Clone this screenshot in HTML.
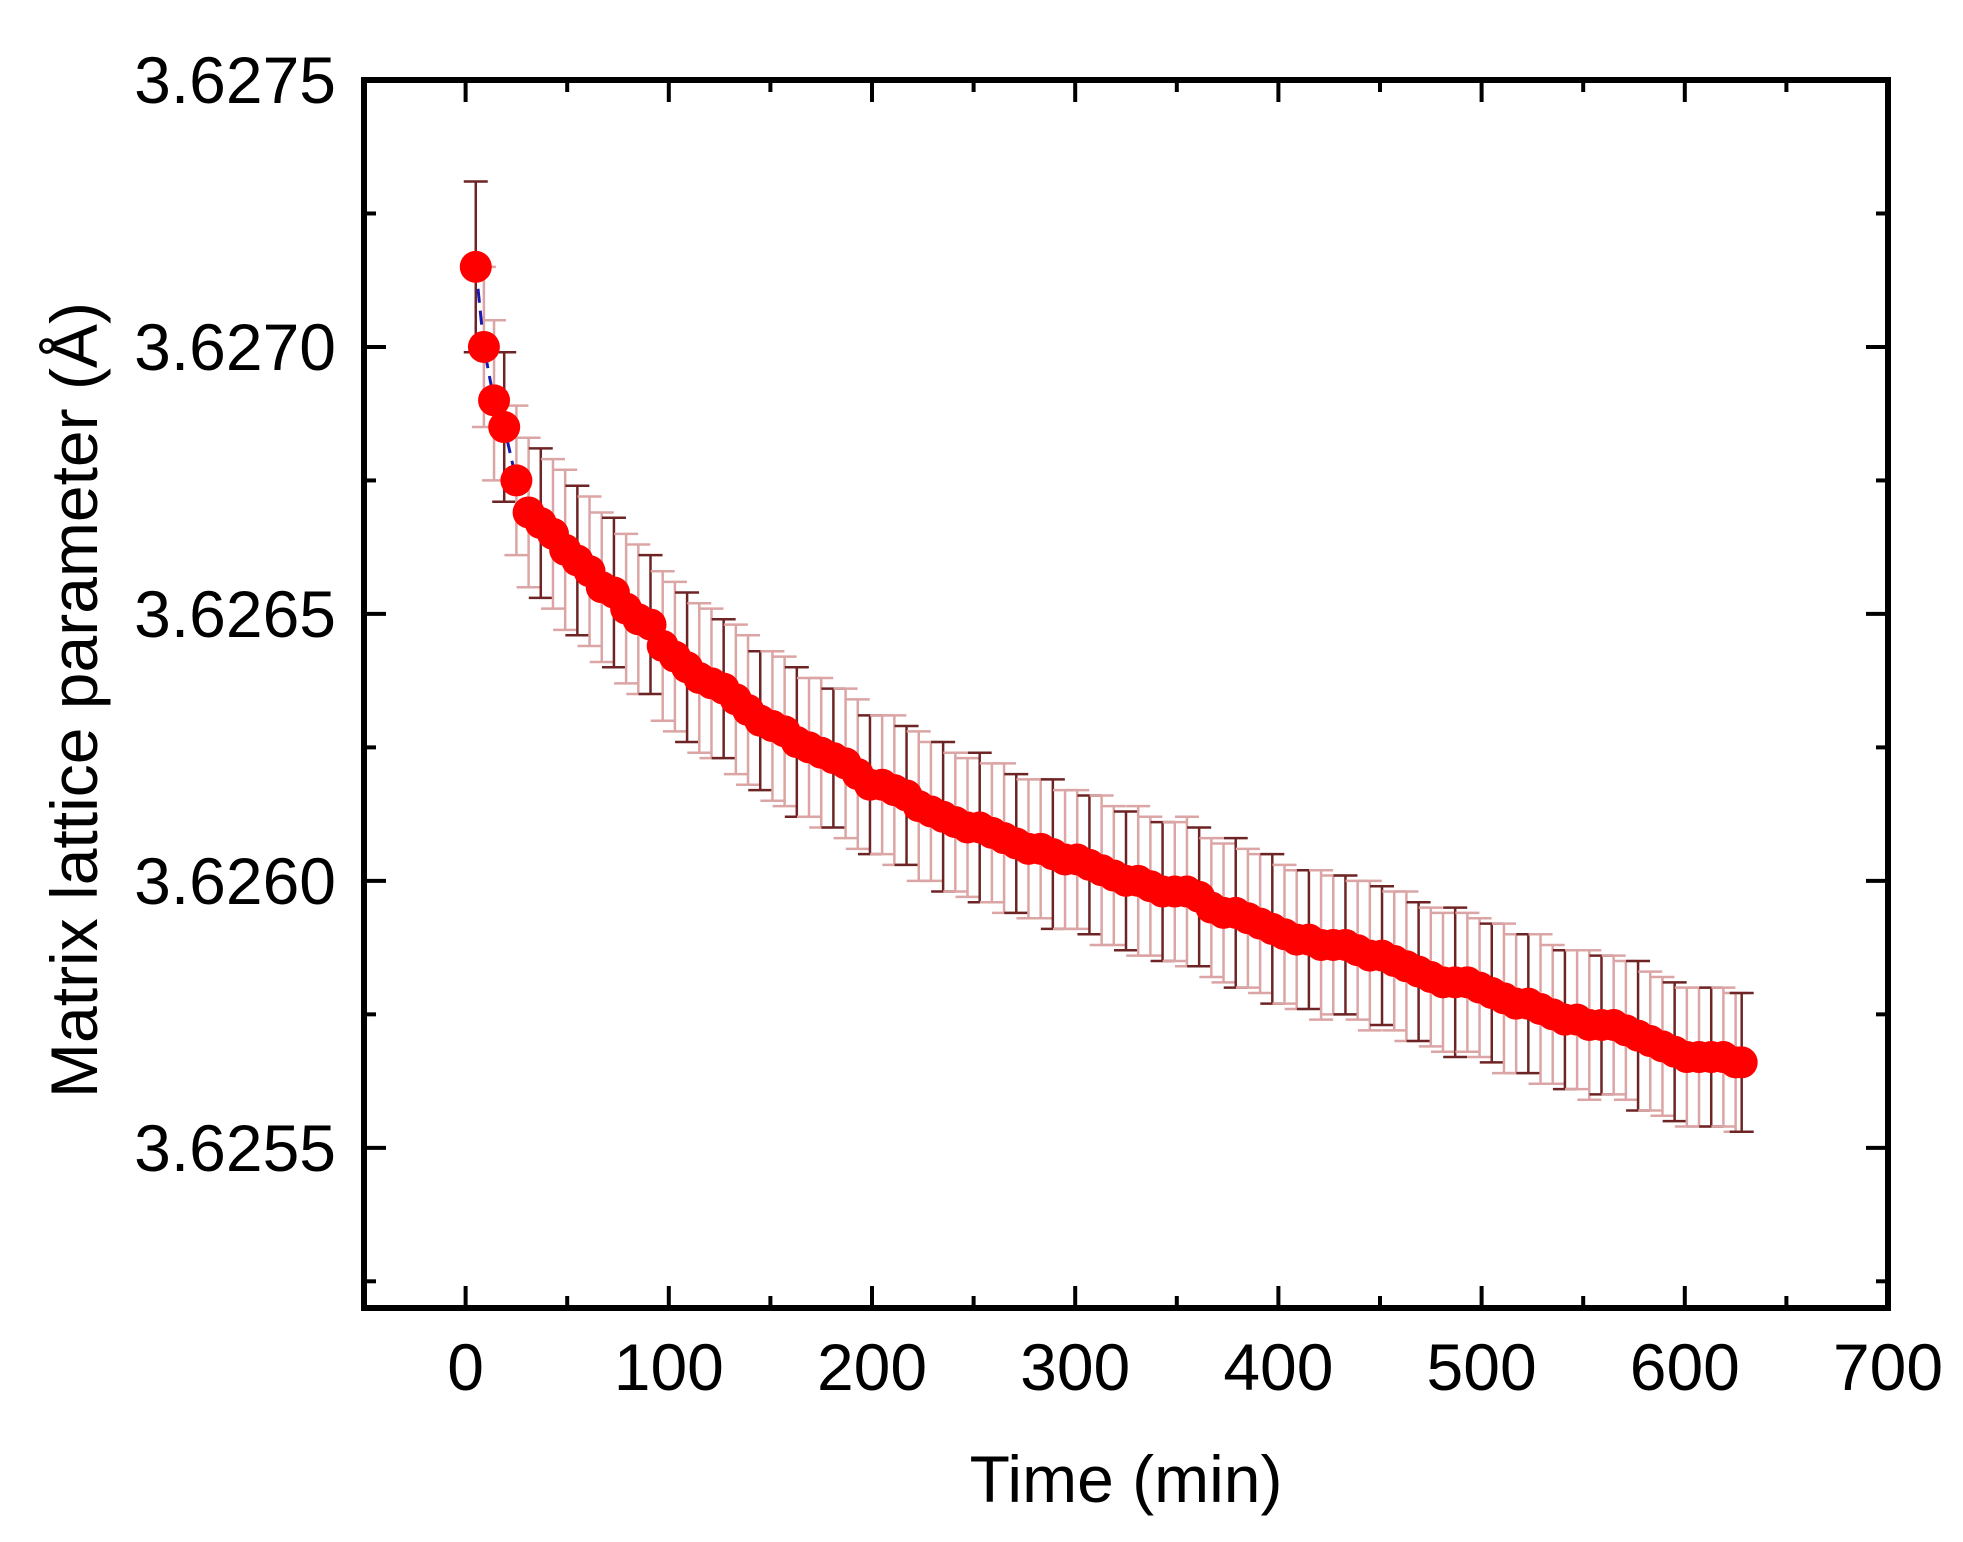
<!DOCTYPE html>
<html><head><meta charset="utf-8"><style>
html,body{margin:0;padding:0;background:#fff;}
svg{display:block;}
text{font-family:"Liberation Sans",Arial,sans-serif;fill:#000;}
</style></head><body>
<svg id="chart" width="1963" height="1542" viewBox="0 0 1963 1542" xmlns="http://www.w3.org/2000/svg">
<g id="errs"></g>
<g id="lines"></g>
<g id="marks"></g>
<g id="axes"></g>
<text x="1126" y="1502" font-size="66" text-anchor="middle">Time (min)</text>
<text transform="translate(97,700) rotate(-90)" font-size="66" text-anchor="middle">Matrix lattice parameter (Å)</text>
</svg>
<script>
const times = [5,9,14,19,25,31,37,43,49,55,61,67,73,79,85,91,97,103,109,115,121,127,133,139,145,151,157,163,169,175,181,187,193,199,205,211,217,223,229,235,241,247,253,259,265,271,277,283,289,295,301,307,313,319,325,331,337,343,349,355,361,367,373,379,385,391,397,403,409,415,421,427,433,439,445,451,457,463,469,475,481,487,493,499,505,511,517,523,529,535,541,547,553,559,565,571,577,583,589,595,601,607,613,619,625,628];
const values = [3.62715,3.62700,3.62690,3.62685,3.62675,3.62669,3.62667,3.62665,3.62662,3.62660,3.62658,3.62655,3.62654,3.62651,3.62649,3.62648,3.62644,3.62642,3.62640,3.62638,3.62637,3.62636,3.62634,3.62632,3.62630,3.62629,3.62628,3.62626,3.62625,3.62624,3.62623,3.62622,3.62620,3.62618,3.62618,3.62617,3.62616,3.62614,3.62613,3.62612,3.62611,3.62610,3.62610,3.62609,3.62608,3.62607,3.62606,3.62606,3.62605,3.62604,3.62604,3.62603,3.62602,3.62601,3.62600,3.62600,3.62599,3.62598,3.62598,3.62598,3.62597,3.62595,3.62594,3.62594,3.62593,3.62592,3.62591,3.62590,3.62589,3.62589,3.62588,3.62588,3.62588,3.62587,3.62586,3.62586,3.62585,3.62584,3.62583,3.62582,3.62581,3.62581,3.62581,3.62580,3.62579,3.62578,3.62577,3.62577,3.62576,3.62575,3.62574,3.62574,3.62573,3.62573,3.62573,3.62572,3.62571,3.62570,3.62569,3.62568,3.62567,3.62567,3.62567,3.62567,3.62566,3.62566];
const errors = [0.00016,0.00015,0.00015,0.00014,0.00014,0.00014,0.00014,0.00014,0.00015,0.00014,0.00014,0.00014,0.00014,0.00014,0.00014,0.00013,0.00014,0.00014,0.00014,0.00014,0.00014,0.00013,0.00014,0.00014,0.00013,0.00014,0.00014,0.00014,0.00013,0.00014,0.00013,0.00014,0.00014,0.00013,0.00013,0.00014,0.00013,0.00014,0.00013,0.00014,0.00013,0.00013,0.00014,0.00013,0.00014,0.00013,0.00013,0.00013,0.00014,0.00013,0.00013,0.00013,0.00014,0.00013,0.00013,0.00014,0.00013,0.00013,0.00013,0.00014,0.00013,0.00013,0.00013,0.00014,0.00013,0.00013,0.00014,0.00013,0.00013,0.00013,0.00014,0.00013,0.00013,0.00013,0.00014,0.00013,0.00013,0.00014,0.00013,0.00013,0.00013,0.00014,0.00013,0.00013,0.00013,0.00014,0.00013,0.00013,0.00014,0.00013,0.00013,0.00013,0.00014,0.00013,0.00013,0.00013,0.00014,0.00013,0.00013,0.00013,0.00013,0.00013,0.00013,0.00013,0.00013,0.00013];
const xTicks = [0,100,200,300,400,500,600,700];
const xTickLabels = ["0","100","200","300","400","500","600","700"];
const yTicks = [3.6255,3.6260,3.6265,3.6270,3.6275];
const yTickLabels = ["3.6255","3.6260","3.6265","3.6270","3.6275"];

const L=364, R=1888, T=80, B=1308;
const xMin=-50, xMax=700, yMin=3.6252, yMax=3.6275;
function X(v){return L+(v-xMin)/(xMax-xMin)*(R-L);}
function Y(v){return B-(v-yMin)/(yMax-yMin)*(B-T);}
const NS="http://www.w3.org/2000/svg";
function mk(tag,parent,attrs){const e=document.createElementNS(NS,tag);for(const k in attrs)e.setAttribute(k,attrs[k]);parent.appendChild(e);return e;}

const gE=document.getElementById('errs'), gL=document.getElementById('lines'), gM=document.getElementById('marks'), gA=document.getElementById('axes');
for(let i=0;i<times.length;i++){
  const x=X(times[i]), y1=Y(values[i]+errors[i]), y2=Y(values[i]-errors[i]);
  const col = (i%3===0)?'#6e2424':'#dca5a5';
  const g=mk('g',gE,{stroke:col,'stroke-width':2.5});
  
  
  mk('line',g,{x1:x,x2:x,y1:y1,y2:y2});
  mk('line',g,{x1:x-12,x2:x+12,y1:y1,y2:y1});
  mk('line',g,{x1:x-12,x2:x+12,y1:y2,y2:y2});
}
let d='';
for(let i=0;i<times.length;i++){d+=(i?'L':'M')+X(times[i]).toFixed(1)+','+Y(values[i]).toFixed(1);}
const pl=mk('path',gL,{d:d,fill:'none',stroke:'#1a1ab0','stroke-width':3,'stroke-dasharray':'14 8'});


for(let i=0;i<times.length;i++){
  const c=mk('circle',gM,{cx:X(times[i]),cy:Y(values[i]),r:16,fill:'#ff0000'});
  
  
}
const fr=mk('rect',gA,{x:L,y:T,width:R-L,height:B-T,fill:'none',stroke:'#000','stroke-width':6});


for(let v=-50; v<=700; v+=50){
  const major = xTicks.includes(v);
  const len = major?22:12, x=X(v);
  if(v===-50||v===700) continue;
  mk('line',gA,{x1:x,x2:x,y1:B,y2:B-len,stroke:'#000','stroke-width':4});
  mk('line',gA,{x1:x,x2:x,y1:T,y2:T+len,stroke:'#000','stroke-width':4});
}
xTicks.forEach((v,i)=>{
  const t=mk('text',gA,{x:X(v),y:1390,'font-size':66,'text-anchor':'middle'});
  t.textContent=xTickLabels[i];
  
  
});
for(let k=0;k<=9;k++){
  const v=3.62525+k*0.00025;
  if(v>yMax+1e-9) break;
  const major = yTicks.some(t=>Math.abs(t-v)<1e-9);
  const len = major?22:12, y=Y(v);
  mk('line',gA,{x1:L,x2:L+len,y1:y,y2:y,stroke:'#000','stroke-width':4});
  mk('line',gA,{x1:R,x2:R-len,y1:y,y2:y,stroke:'#000','stroke-width':4});
}
yTicks.forEach((v,i)=>{
  const t=mk('text',gA,{x:336,y:Y(v)+23,'font-size':66,'text-anchor':'end'});
  t.textContent=yTickLabels[i];
  
  
});
</script>
</body></html>
